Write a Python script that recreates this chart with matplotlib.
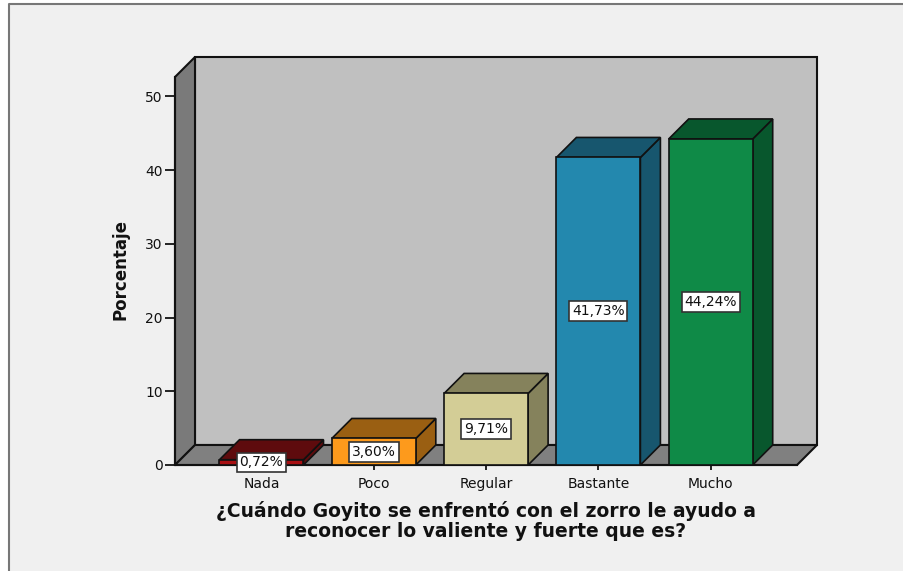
#!/usr/bin/env python3
"""SPSS style 3D bar chart, percentages per answer."""
import matplotlib
matplotlib.use("Agg")
import matplotlib.pyplot as plt
from matplotlib.lines import Line2D
from matplotlib.patches import Polygon

plt.rcParams['font.family'] = ['DejaVu Sans']

categories = ["Nada", "Poco", "Regular", "Bastante", "Mucho"]
values = [0.72, 3.60, 9.71, 41.73, 44.24]
value_labels = ["0,72%", "3,60%", "9,71%", "41,73%", "44,24%"]
y_ticks = [0, 10, 20, 30, 40, 50]
x_title = "¿Cuándo Goyito se enfrentó con el zorro le ayudo a\nreconocer lo valiente y fuerte que es?"
y_title = "Porcentaje"

front_colors = ["#a80f12", "#fd9a1c", "#d3cd96", "#2388ae", "#0f8a47"]
dark_colors = ["#5e0b0d", "#9a5f12", "#85825c", "#17566e", "#08572d"]

W, H = 904, 571
fig = plt.figure(figsize=(W / 100, H / 100), dpi=100, facecolor="#f0f0f0")

# outer frame of the chart window, white outside it
for xs, ys in [([0, 1], [1 - 4 / H, 1]), ([0, 9 / W], [0, 1])]:
    fig.patches.append(plt.Rectangle((xs[0], ys[0]), xs[1] - xs[0], ys[1] - ys[0],
                                     transform=fig.transFigure, fc="white", ec="none"))
fig.add_artist(Line2D([9 / W, 9 / W, 1], [0, 1 - 4 / H, 1 - 4 / H], color="#777777", lw=1.5))

# axes is the front plane of the 3D box
left, right, top, bottom = 175, 797, 77, 465
ax = fig.add_axes([left / W, 1 - bottom / H, (right - left) / W, (bottom - top) / H])
ax.patch.set_visible(False)

px_x = 112.3  # pixels per category
px_y = 7.37   # pixels per percent
x_min = -86.5 / px_x
x_max = x_min + (right - left) / px_x
y_max = (bottom - top) / px_y
ax.set_xlim(x_min, x_max)
ax.set_ylim(0, y_max)

dx = 20 / px_x
dy = 20 / px_y
bar_w = 84 / px_x


def poly(points, color, z, lw=1.5, edge="#111111"):
    ax.add_patch(Polygon(points, closed=True, fc=color, ec=edge, lw=lw, zorder=z,
                         clip_on=False, joinstyle="miter"))


# back wall, left wall, floor
poly([(x_min + dx, dy), (x_max + dx, dy), (x_max + dx, y_max + dy), (x_min + dx, y_max + dy)], "#c0c0c0", 1)
poly([(x_min, 0), (x_min + dx, dy), (x_min + dx, y_max + dy), (x_min, y_max)], "#7a7a7a", 1)
poly([(x_min, 0), (x_max, 0), (x_max + dx, dy), (x_min + dx, dy)], "#808080", 1)

for i, v in enumerate(values):
    x0 = i - bar_w / 2
    x1 = i + bar_w / 2
    poly([(x1, 0), (x1 + dx, dy), (x1 + dx, v + dy), (x1, v)], dark_colors[i], 3, lw=1.2)
    poly([(x0, v), (x1, v), (x1 + dx, v + dy), (x0 + dx, v + dy)], dark_colors[i], 3, lw=1.2)
    poly([(x0, 0), (x1, 0), (x1, v), (x0, v)], front_colors[i], 3, lw=1.2)
    ax.text(i, v / 2, value_labels[i], ha="center", va="center", fontsize=10,
            color="#111111", zorder=5,
            bbox=dict(boxstyle="square,pad=0.2", fc="white", ec="#333333", lw=1.2))

for side in ["top", "right"]:
    ax.spines[side].set_visible(False)
for side in ["left", "bottom"]:
    ax.spines[side].set_linewidth(1.5)
    ax.spines[side].set_color("#111111")
    ax.spines[side].set_zorder(2)

ax.set_xticks(range(len(categories)), categories)
ax.set_yticks(y_ticks)
ax.tick_params(axis="y", length=7.2, width=1.2, pad=1.5, labelsize=10, labelcolor="#111111")
ax.tick_params(axis="x", length=3.6, width=1.2, pad=5, labelsize=10, labelcolor="#111111")

ax.set_xlabel(x_title, fontsize=13.5, fontweight="bold", linespacing=1.1, labelpad=7, color="#111111")
ax.set_ylabel(y_title, fontsize=12, fontweight="bold", labelpad=11.5, color="#111111", y=0.505)

plt.savefig("out.png", dpi=100, facecolor=fig.get_facecolor())
